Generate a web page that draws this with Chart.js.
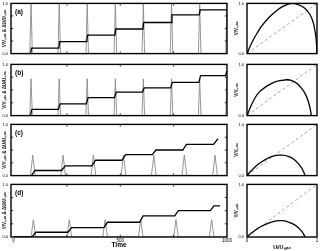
<!DOCTYPE html>
<html><head><meta charset="utf-8">
<script src="https://cdn.jsdelivr.net/npm/chart.js@4/dist/chart.umd.min.js"></script>
<style>
html,body{margin:0;padding:0;background:#fff;width:320px;height:251px;overflow:hidden;position:relative}
canvas{position:absolute}
</style></head><body>
<script>
// ---------- data ----------
const PANEL_LABELS = ['(a)', '(b)', '(c)', '(d)'];
const TIME_TICKS = [0, 250, 500, 750, 1000];
const TIME_TICK_LABELS = ['0', '', '500', '', '1000'];
const FRACTION_TICKS = [0, 0.25, 0.5, 0.75, 1];
const FRACTION_TICK_LABELS = ['0.0', '', '', '', '1.0'];
const U_TICK_LABELS = ['0', '', '', '', '1'];

// V/Vmax staircase (time, value)
const stepA = [[0,0],[80,0],[84,0.11],[212,0.11],[216,0.24],[343,0.24],[347,0.37],[475,0.37],[479,0.49],[606,0.49],[610,0.62],[738,0.62],[742,0.77],[870,0.77],[874,0.87],[1000,0.87]];
const stepB = [[0,0],[79,0],[86,0.12],[210,0.12],[218,0.23],[341,0.23],[349,0.35],[473,0.35],[481,0.46],[604,0.46],[612,0.54],[736,0.54],[744,0.65],[868,0.65],[876,0.78],[992,0.78],[1000,0.87]];
const stepC = [[0,0],[84,0],[100,0.10],[225,0.10],[242,0.19],[367,0.19],[384,0.30],[508,0.30],[525,0.41],[650,0.41],[667,0.50],[793,0.50],[810,0.61],[937,0.61],[950,0.68],[958,0.72]];
const stepD = [[0,0],[87,0],[104,0.09],[255,0.09],[272,0.18],[423,0.18],[440,0.28],[590,0.28],[607,0.40],[755,0.40],[772,0.50],[922,0.50],[939,0.59],[967,0.59]];

// ΔUi/Umax pulses (time, value)
const pulseA = [[0,0],[76,0],[82,1],[88,0],[208,0],[214,1],[220,0],[339,0],[345,1],[351,0],[471,0],[477,1],[483,0],[602,0],[608,1],[614,0],[734,0],[740,1],[746,0],[866,0],[872,1],[878,0],[994,0],[1000,1]];
const pulseB = [[0,0],[76,0],[82,0.72],[88,0],[208,0],[214,0.72],[220,0],[339,0],[345,0.72],[351,0],[471,0],[477,0.72],[483,0],[602,0],[608,0.72],[614,0],[734,0],[740,0.72],[746,0],[866,0],[872,0.72],[878,0],[994,0],[1000,0.72]];
const pulseC = [[0,0],[79,0],[90,0.40],[101,0],[221,0],[232,0.40],[243,0],[363,0],[374,0.40],[385,0],[504,0],[515,0.40],[526,0],[646,0],[657,0.40],[668,0],[789,0],[800,0.40],[811,0],[933,0],[944,0.40],[955,0],[1000,0]];
const pulseD = [[0,0],[82,0],[93,0.33],[104,0],[250,0],[261,0.33],[272,0],[418,0],[429,0.33],[440,0],[585,0],[596,0.33],[607,0],[750,0],[761,0.33],[772,0],[917,0],[928,0.33],[939,0],[1000,0]];

// V/Vmax vs Ui/Umax
const curveA = [[0,0],[0.05,0.16],[0.1,0.3],[0.15,0.42],[0.2,0.53],[0.3,0.7],[0.4,0.83],[0.5,0.93],[0.6,0.99],[0.65,1.0],[0.7,0.99],[0.8,0.93],[0.9,0.78],[0.95,0.6],[0.97,0.46],[0.99,0.25],[1.0,0]];
const curveB = [[0,0],[0.05,0.17],[0.1,0.31],[0.15,0.42],[0.2,0.49],[0.3,0.59],[0.4,0.66],[0.5,0.69],[0.57,0.70],[0.65,0.68],[0.72,0.62],[0.78,0.53],[0.83,0.43],[0.87,0.3],[0.9,0.15],[0.92,0]];
const curveC = [[0,0],[0.05,0.08],[0.1,0.15],[0.15,0.21],[0.2,0.26],[0.3,0.34],[0.4,0.39],[0.45,0.40],[0.5,0.40],[0.6,0.37],[0.67,0.32],[0.73,0.24],[0.78,0.15],[0.81,0.07],[0.83,0]];
const curveD = [[0,0],[0.05,0.06],[0.1,0.11],[0.15,0.16],[0.2,0.2],[0.3,0.26],[0.4,0.3],[0.45,0.31],[0.5,0.31],[0.6,0.28],[0.67,0.24],[0.73,0.18],[0.78,0.11],[0.81,0.05],[0.83,0]];
const diagonal = [[0,0],[1,1]];

const STEPS = [stepA, stepB, stepC, stepD];
const PULSES = [pulseA, pulseB, pulseC, pulseD];
const CURVES = [curveA, curveB, curveC, curveD];

// ---------- layout ----------
const PANEL_TOPS = [2, 63, 123, 183];
const PANEL_H = [53, 54, 54, 54];
const FONT = '"Liberation Sans", Arial, sans-serif';

const pts = arr => arr.map(p => ({x: p[0], y: p[1]}));
const setTicks = vals => (s => { s.ticks = vals.map(v => ({value: v})); });
const labelFrom = (vals, labels) => (v => { const k = vals.indexOf(v); return k < 0 ? '' : labels[k]; });

const framePlugin = {
  id: 'frame',
  afterDatasetsDraw(chart, args, o) {
    const {ctx, chartArea: a} = chart;
    const sx = chart.scales.x, sy = chart.scales.y;
    ctx.save();
    ctx.strokeStyle = '#000';
    if (o.inner) {
      ctx.lineWidth = 0.8;
      const L = 2.2;
      ctx.beginPath();
      o.xTicks.forEach(v => {
        const p = sx.getPixelForValue(v);
        ctx.moveTo(p, a.top); ctx.lineTo(p, a.top + L);
        ctx.moveTo(p, a.bottom); ctx.lineTo(p, a.bottom - L);
      });
      o.yTicks.forEach(v => {
        const p = sy.getPixelForValue(v);
        ctx.moveTo(a.left, p); ctx.lineTo(a.left + L, p);
        ctx.moveTo(a.right, p); ctx.lineTo(a.right - L, p);
      });
      ctx.stroke();
    }
    ctx.lineWidth = 1.4;
    ctx.strokeRect(a.left, a.top, a.right - a.left, a.bottom - a.top);
    if (o.label) {
      ctx.fillStyle = '#000';
      ctx.font = 'bold 6.5px ' + FONT;
      ctx.textBaseline = 'alphabetic';
      ctx.fillText(o.label, a.left + 4, a.top + 10.5);
    }
    ctx.restore();
  }
};

function makeCanvas(left, top, w, h) {
  const c = document.createElement('canvas');
  c.width = w; c.height = h;
  c.style.left = left + 'px'; c.style.top = top + 'px';
  c.style.width = w + 'px'; c.style.height = h + 'px';
  document.body.appendChild(c);
  return c;
}

function leftChart(i) {
  const isBottom = i === 3;
  const padTop = 4, axisH = isBottom ? 13 : 4, W = 234, RIGHT = 227, YW = 11;
  const c = makeCanvas(0, PANEL_TOPS[i] - padTop, W, padTop + PANEL_H[i] + axisH);
  new Chart(c, {
    type: 'line',
    data: {datasets: [
      {data: pts(STEPS[i]), borderColor: '#000', borderWidth: 1.3, pointRadius: 0, tension: 0},
      {data: pts(PULSES[i]), borderColor: '#8a8a8a', borderWidth: 0.9, pointRadius: 0, tension: 0}
    ]},
    options: {
      responsive: false, animation: false, devicePixelRatio: 1,
      layout: {padding: {top: padTop, right: W - RIGHT, left: 0, bottom: 0}},
      plugins: {legend: {display: false}, tooltip: {enabled: false},
        frame: {inner: true, xTicks: [250, 500, 750], yTicks: [0.25, 0.5, 0.75], label: PANEL_LABELS[i]}},
      scales: {
        x: {type: 'linear', min: -12, max: 1000,
          afterBuildTicks: setTicks(TIME_TICKS),
          afterFit(s) { s.height = axisH; },
          grid: {display: false, drawTicks: false}, border: {display: false},
          ticks: {display: isBottom, autoSkip: false, maxRotation: 0, minRotation: 0,
            padding: 1, color: '#000', font: {size: 4.5, family: FONT},
            callback: labelFrom(TIME_TICKS, TIME_TICK_LABELS)},
          title: {display: isBottom, text: 'Time', color: '#000', font: {size: 6.5, weight: 'bold', family: FONT}, padding: {top: 0, bottom: 1}}
        },
        y: {type: 'linear', min: 0, max: 1,
          afterBuildTicks: setTicks(FRACTION_TICKS),
          afterFit(s) { s.width = YW; },
          grid: {display: false, drawTicks: false}, border: {display: false},
          ticks: {autoSkip: false, padding: 3, color: '#000', font: {size: 4, family: FONT},
            callback: labelFrom(FRACTION_TICKS, FRACTION_TICK_LABELS)},
          title: {display: true, text: 'V/Vₘₐₓ & ΔUᵢ/Uₘₐₓ', color: '#000', font: {size: 4.5, weight: 'bold', family: FONT}, padding: {top: 2.3, bottom: 0}}
        }
      }
    },
    plugins: [framePlugin]
  });
}

function rightChart(i) {
  const isBottom = i === 3;
  const padTop = 4, axisH = isBottom ? 14 : 4, LEFT = 232, YW = 15, PW = 70, PR = 3;
  const W = YW + PW + PR;
  const c = makeCanvas(LEFT, PANEL_TOPS[i] - padTop, W, padTop + PANEL_H[i] + axisH);
  new Chart(c, {
    type: 'line',
    data: {datasets: [
      {data: pts(CURVES[i]), borderColor: '#000', borderWidth: 1.3, pointRadius: 0, cubicInterpolationMode: 'monotone'},
      {data: pts(diagonal), borderColor: '#9a9a9a', borderWidth: 0.9, borderDash: [3, 2.5], pointRadius: 0, tension: 0}
    ]},
    options: {
      responsive: false, animation: false, devicePixelRatio: 1,
      layout: {padding: {top: padTop, right: PR, left: 0, bottom: 0}},
      plugins: {legend: {display: false}, tooltip: {enabled: false}, frame: {inner: false}},
      scales: {
        x: {type: 'linear', min: 0, max: 1,
          afterBuildTicks: setTicks(FRACTION_TICKS),
          afterFit(s) { s.height = axisH; },
          grid: {display: false, drawTicks: false}, border: {display: false},
          ticks: {display: isBottom, autoSkip: false, maxRotation: 0, minRotation: 0, padding: 1, color: '#000',
            font: {size: 4.5, family: FONT},
            callback: labelFrom(FRACTION_TICKS, U_TICK_LABELS)},
          title: {display: isBottom, text: 'Uᵢ/Uₘₐₓ', color: '#000', font: {size: 5.5, weight: 'bold', family: FONT}, padding: {top: 0, bottom: 0}}
        },
        y: {type: 'linear', min: 0, max: 1,
          afterBuildTicks: setTicks(FRACTION_TICKS),
          afterFit(s) { s.width = YW; },
          grid: {display: false, drawTicks: false}, border: {display: false},
          ticks: {autoSkip: false, padding: 3, color: '#000', font: {size: 4, family: FONT},
            callback: labelFrom(FRACTION_TICKS, FRACTION_TICK_LABELS)},
          title: {display: true, text: 'V/Vₘₐₓ', color: '#000', font: {size: 4.5, weight: 'bold', family: FONT}, padding: {top: 2.3, bottom: 0}}
        }
      }
    },
    plugins: [framePlugin]
  });
}

for (let i = 0; i < 4; i++) { leftChart(i); rightChart(i); }
</script>
</body></html>
